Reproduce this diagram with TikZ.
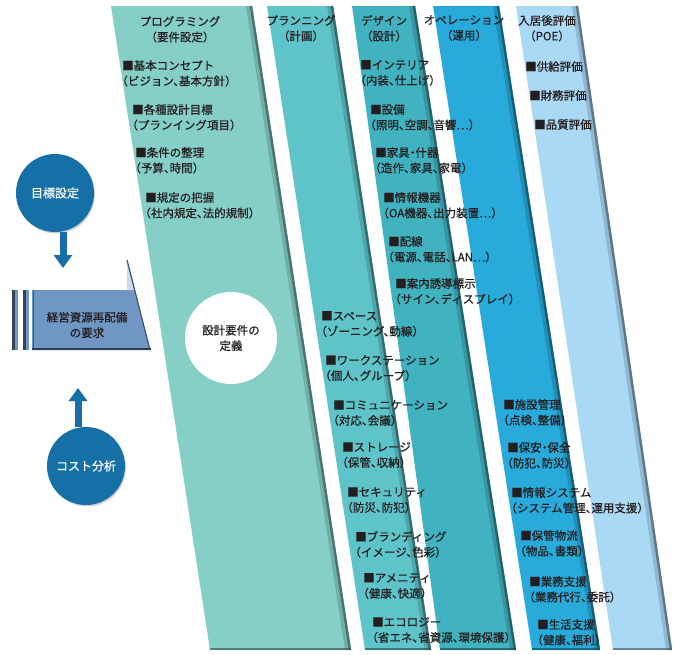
\documentclass[tikz,border=0pt]{standalone}
\usepackage{fontspec}
\setmainfont{Noto Sans CJK JP}[RawFeature=+halt, FakeBold=0.6]
\usetikzlibrary{arrows.meta,shadows}
\definecolor{bandA}{RGB}{133,207,199}
\definecolor{bandB}{RGB}{94,196,201}
\definecolor{bandC}{RGB}{64,178,192}
\definecolor{bandD}{RGB}{40,170,218}
\definecolor{bandE}{RGB}{170,217,245}
\definecolor{circblue}{RGB}{22,112,168}
\definecolor{flagblue}{RGB}{112,150,196}
\definecolor{txt}{RGB}{35,31,32}
\begin{document}
\begin{tikzpicture}[x=1pt,y=-1pt,
  item/.style={anchor=north west, inner sep=0pt, yshift=6pt, align=left, text=txt, font=\fontsize{11.5}{15.5}\selectfont},
  head/.style={anchor=north, inner sep=0pt, yshift=6pt, align=center, text=txt, font=\fontsize{11.5}{15.5}\selectfont},
  bluecirc/.style={circle, fill=circblue, minimum size=78pt, inner sep=0pt, text=white, font=\fontsize{12}{14}\selectfont, drop shadow={shadow xshift=1pt, shadow yshift=-1.5pt, opacity=.35}},
  whitecirc/.style={circle, fill=white, minimum size=92pt, inner sep=0pt, align=center, text=txt, font=\fontsize{11.5}{15.5}\selectfont},
  bigarrow/.style={line width=7pt, draw=circblue, -{Triangle[length=13pt,width=18pt]}},
  edgewide/.style={line width=6pt, opacity=.25},
  edgenarrow/.style={line width=2.5pt, opacity=.65},
]
\useasboundingbox (0,0) rectangle (674,654);
\fill[white] (0,0) rectangle (674,654);

% bands
\fill[bandA] (111,6) -- (252,6) -- (351,650) -- (210,650) -- cycle;
\draw[edgewide, bandA!40!black] (249,6) -- (348,650);
\draw[edgenarrow, bandA!40!black] (251,6) -- (350,650);
\draw[edgenarrow, bandA!40!black] (210,649) -- (351,649);

\fill[bandB] (267,6) -- (333,6) -- (431,650) -- (365,650) -- cycle;
\draw[edgewide, bandB!40!black] (330,6) -- (428,650);
\draw[edgenarrow, bandB!40!black] (332,6) -- (430,650);
\draw[edgenarrow, bandB!40!black] (365,649) -- (431,649);

\fill[bandC] (352,6) -- (415,6) -- (516,650) -- (440,650) -- cycle;
\draw[edgewide, bandC!40!black] (412,6) -- (513,650);
\draw[edgenarrow, bandC!40!black] (414,6) -- (515,650);
\draw[edgenarrow, bandC!40!black] (440,649) -- (516,649);

\fill[bandD] (433,6) -- (499,6) -- (600,650) -- (532,650) -- cycle;
\draw[edgewide, bandD!40!black] (496,6) -- (597,650);
\draw[edgenarrow, bandD!40!black] (498,6) -- (599,650);
\draw[edgenarrow, bandD!40!black] (532,649) -- (600,649);

\fill[bandE] (516,6) -- (578,6) -- (672,650) -- (613,650) -- cycle;
\draw[edgewide, bandE!40!black] (575,6) -- (669,650);
\draw[edgenarrow, bandE!40!black] (577,6) -- (671,650);
\draw[edgenarrow, bandE!40!black] (613,649) -- (672,649);

% headers
\node[head] (hA) at (180,22) {プログラミング\\（要件設定）};
\node[head] (hB) at (301,21) {プランニング\\（計画）};
\node[head] (hC) at (384,21) {デザイン\\（設計）};
\node[head] (hD) at (464,21) {オペレーション\\（運用）};
\node[head] (hE) at (547,21) {入居後評価\\（POE）};

% programming items
\node[item] (a1) at (122,66) {■基本コンセプト\\（ビジョン、基本方針）};
\node[item] (a2) at (132,110) {■各種設計目標\\（プランイング項目）};
\node[item] (a3) at (135,153) {■条件の整理\\（予算、時間）};
\node[item] (a4) at (145,198) {■規定の把握\\（社内規定、法的規制）};

% design items
\node[item] (c1) at (360,66) {■インテリア\\（内装、仕上げ）};
\node[item] (c2) at (370,110) {■設備\\（照明、空調、音響…）};
\node[item] (c3) at (375,153) {■家具・什器\\（造作、家具、家電）};
\node[item] (c4) at (383,198) {■情報機器\\（OA機器、出力装置…）};
\node[item] (c5) at (388,242) {■配線\\（電源、電話、LAN…）};
\node[item] (c6) at (395,284) {■案内誘導標示\\（サイン、ディスプレイ）};

% planning items
\node[item] (b1) at (321,317) {■スペース\\（ゾーニング、動線）};
\node[item] (b2) at (325,361) {■ワークステーション\\（個人、グループ）};
\node[item] (b3) at (333,406) {■コミュニケーション\\（対応、会議）};
\node[item] (b4) at (342,448) {■ストレージ\\（保管、収納）};
\node[item] (b5) at (347,493) {■セキュリティ\\（防災、防犯）};
\node[item] (b6) at (355,537) {■ブランディング\\（イメージ、色彩）};
\node[item] (b7) at (363,579) {■アメニティ\\（健康、快適）};
\node[item] (b8) at (372,623) {■エコロジー\\（省エネ、省資源、環境保護）};

% operation items
\node[item] (d1) at (503,405) {■施設管理\\（点検、整備）};
\node[item] (d2) at (507,448) {■保安・保全\\（防犯、防災）};
\node[item] (d3) at (511,493) {■情報システム\\（システム管理、運用支援）};
\node[item] (d4) at (520,536) {■保管物流\\（物品、書類）};
\node[item] (d5) at (529,582) {■業務支援\\（業務代行、委託）};
\node[item] (d6) at (537,625) {■生活支援\\（健康、福利）};

% POE items
\node[item] (e1) at (525,67) {■供給評価};
\node[item] (e2) at (529,96) {■財務評価};
\node[item] (e3) at (534,125) {■品質評価};

% white circle
\node[whitecirc] (req) at (231,338) {設計要件の\\定義};

% left flag shape
\fill[flagblue] (12,290) rectangle (18,350);
\fill[flagblue!45!black] (12,290) rectangle (15,350);
\fill[flagblue] (23,290) rectangle (29,350);
\fill[flagblue!45!black] (23,290) rectangle (26,350);
\fill[flagblue] (32,290) -- (127,290) -- (127,260) -- (150,350) -- (32,350) -- cycle;
\fill[flagblue!35!white] (127,260) -- (134.7,290) -- (127,290) -- cycle;
\draw[line width=1.2pt, flagblue!55!black] (127,260) -- (150,350);
\draw[line width=1pt, flagblue!55!black] (33,290) -- (33,350);
\draw[line width=2.5pt, flagblue!40!black] (32,349) -- (151,349);
\node[align=center, inner sep=0pt, text=txt, font=\fontsize{11.5}{15.5}\selectfont] (flag) at (87,325) {経営資源再配備\\の要求};

% blue circles and arrows
\node[bluecirc] (goal) at (55,193) {目標設定};
\node[bluecirc] (cost) at (86,466) {コスト分析};
\coordinate (goalArrowEnd) at (63,268);
\coordinate (costArrowEnd) at (78,388);
\draw[bigarrow] (goal.south -| goalArrowEnd) -- (goalArrowEnd);
\draw[bigarrow] (cost.north -| costArrowEnd) -- (costArrowEnd);
\end{tikzpicture}
\end{document}
